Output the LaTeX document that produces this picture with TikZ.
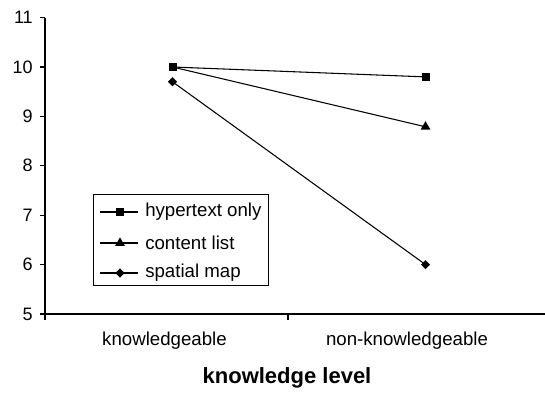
\documentclass[tikz,border=0pt]{standalone}
\usepackage{fontspec}
\setmainfont{Liberation Sans}
\usetikzlibrary{shapes.geometric}
\begin{document}
\begin{tikzpicture}[x=0.75pt,y=-0.75pt,
  axisline/.style={line width=0.9pt,black},
  dataline/.style={line width=0.8pt,black},
  sqmark/.style={rectangle,fill=black,inner sep=0pt,minimum size=6pt},
  trimark/.style={regular polygon,regular polygon sides=3,fill=black,inner sep=0pt,minimum size=8.5pt},
  dmmark/.style={diamond,fill=black,inner sep=0pt,minimum size=7pt},
  ticklabel/.style={anchor=east,inner sep=0pt,font=\fontsize{13.5}{15}\selectfont},
  catlabel/.style={anchor=base,inner sep=0pt,font=\fontsize{14}{16}\selectfont},
  legtext/.style={anchor=west,inner sep=0pt,font=\fontsize{14}{16}\selectfont},
  legsmall/.style={inner sep=0pt}]
\useasboundingbox[fill=white] (0,0) rectangle (545,392);

% axes
\coordinate (org) at (45,314);
\coordinate (ytop) at (45,17.6);
\coordinate (xend) at (545,314);
\draw[axisline] (ytop) -- (org) -- (xend);
\draw[axisline] (45,314) -- (45,320);
\draw[axisline] (288,314) -- (288,320);

% y ticks and labels
\foreach \v/\y in {5/314,6/264.6,7/215.2,8/165.8,9/116.4,10/67,11/17.6}{
  \draw[axisline] (40,\y) -- (45,\y);
  \node[ticklabel] (t\v) at (33,\y) {\v};
}

% category labels and axis title
\node[catlabel] (ck) at (164.5,345) {knowledgeable};
\node[catlabel] (cn) at (407,345) {non-knowledgeable};
\node[anchor=base,inner sep=0pt,font=\fontsize{16.5}{19}\selectfont\bfseries] (title) at (287,383) {knowledge level};

% data points
\node[sqmark] (h1) at (172.5,67) {};
\node[sqmark] (h2) at (425.5,76.9) {};
\node[trimark] (c2) at (425.5,126.8) {};
\coordinate (c1) at (172.5,67);
\node[dmmark] (s1) at (172.5,81.8) {};
\node[dmmark] (s2) at (425.5,264.6) {};

\draw[dataline] (h1.center) -- (h2.center);
\draw[dataline] (c1) -- (c2.center);
\draw[dataline] (s1.center) -- (s2.center);

% legend
\node[draw,line width=0.9pt,minimum width=175*0.75pt,minimum height=91*0.75pt,anchor=north west,inner sep=0pt] (legend) at (93,194) {};
\foreach \y/\m/\t/\n in {212/sqmark/hypertext only/lh,243/trimark/content list/lc,273/dmmark/spatial map/ls}{
  \coordinate (\n a) at (100,\y);
  \coordinate (\n b) at (138,\y);
  \draw[dataline] (\n a) -- (\n b);
  \node[\m] (\n m) at (120,\y) {};
  \node[legtext] (\n t) at (145,\y) {\t};
}
\end{tikzpicture}
\end{document}
